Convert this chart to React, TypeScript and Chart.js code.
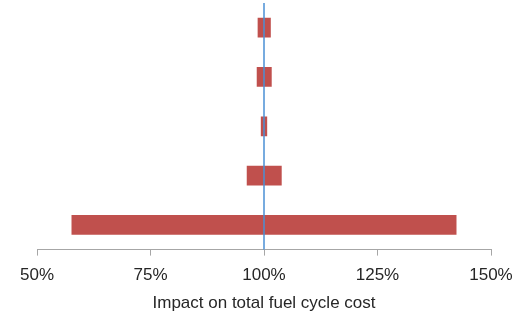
import React, { useEffect, useRef } from "react";
import { Chart, registerables } from "chart.js";

Chart.register(...registerables);

const categories = ["Factor 1", "Factor 2", "Factor 3", "Factor 4", "Factor 5"];
const lowValues = [98.6, 98.4, 99.3, 96.2, 57.6];
const highValues = [101.5, 101.7, 100.7, 103.9, 142.4];
const tickValues = [50, 75, 100, 125, 150];
const baseline = 100;
const axisTitle = "Impact on total fuel cycle cost";

const baselinePlugin = {
  id: "baselineLine",
  afterDatasetsDraw(chart: any) {
    const { ctx, chartArea, scales } = chart;
    const x = scales.x.getPixelForValue(baseline);
    ctx.save();
    ctx.strokeStyle = "#4A8FD4";
    ctx.lineWidth = 1.5;
    ctx.beginPath();
    ctx.moveTo(x, chartArea.top);
    ctx.lineTo(x, chartArea.bottom);
    ctx.stroke();
    ctx.restore();
  },
};

export default function App() {
  const ref = useRef<HTMLCanvasElement | null>(null);
  useEffect(() => {
    if (!ref.current) return;
    const chart = new Chart(ref.current, {
      type: "bar",
      data: {
        labels: categories,
        datasets: [
          {
            data: categories.map((_, i) => [lowValues[i], highValues[i]]) as any,
            backgroundColor: "#C0504D",
            borderWidth: 0,
            categoryPercentage: 1,
            barPercentage: 0.4,
          },
        ],
      },
      options: {
        indexAxis: "y",
        animation: false,
        responsive: true,
        maintainAspectRatio: false,
        layout: { padding: { top: 3, left: 37, right: 35, bottom: 3 } },
        plugins: { legend: { display: false }, tooltip: { enabled: false } },
        scales: {
          y: { display: false },
          x: {
            min: 50,
            max: 150,
            afterBuildTicks: (axis: any) => {
              axis.ticks = tickValues.map((v) => ({ value: v }));
            },
            grid: {
              display: true,
              drawOnChartArea: false,
              drawTicks: true,
              tickLength: 6,
              color: "#A6A6A6",
            },
            border: { display: true, color: "#A6A6A6", width: 1 },
            ticks: {
              padding: 10,
              color: "#262626",
              maxRotation: 0,
              font: { family: "'Liberation Sans', Arial, sans-serif", size: 17 },
              callback: (v: any) => v + "%",
            },
            title: {
              display: true,
              text: axisTitle,
              color: "#262626",
              padding: { top: -1, bottom: 0 },
              font: { family: "'Liberation Sans', Arial, sans-serif", size: 17, lineHeight: 1 },
            },
          },
        },
      },
      plugins: [baselinePlugin],
    });
    return () => chart.destroy();
  }, []);
  return (
    <div style={{ position: "fixed", left: 0, top: 0, width: 526, height: 315 }}>
      <canvas ref={ref} />
    </div>
  );
}
